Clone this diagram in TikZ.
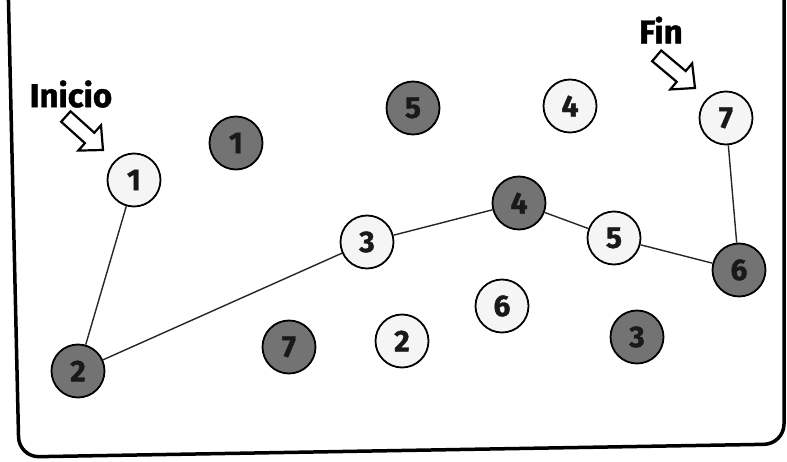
\documentclass[tikz,border=0pt]{standalone}
\usepackage{fontspec}
\setmainfont{Fira Sans}[BoldFeatures={FakeBold=1.2}]
\begin{document}
\begin{tikzpicture}[x=1pt,y=-1pt,
  dot/.style={circle, draw=black, line width=1.8pt, minimum size=53pt, inner sep=0pt,
    font=\fontsize{30}{30}\selectfont\bfseries, text=black!90},
  lite/.style={dot, fill=black!4},
  dark/.style={dot, fill=black!55},
  link/.style={line width=1.4pt, draw=black!85},
  hollow/.style={draw=black, line width=2.2pt, fill=white, line join=miter},
  lbl/.style={font=\fontsize{33}{33}\selectfont\bfseries, inner sep=0pt}]
\useasboundingbox (0,0) rectangle (787,462);
\fill[white] (0,0) rectangle (787,462);
% frame
\draw[line width=3.5pt, rounded corners=20pt] (8,-20) -- (19,457) -- (784,444) -- (784,-20);
% nodes
\node[lite] (w1) at (134,180) {1};
\node[dark] (d1) at (236,143) {1};
\node[dark] (d5) at (413,108) {5};
\node[lite] (w4) at (570,106) {4};
\node[lite] (w7) at (726,118) {7};
\node[lite] (w3) at (367,242) {3};
\node[dark] (d4) at (519,203) {4};
\node[lite] (w5) at (614,238) {5};
\node[dark] (d6) at (739,270) {6};
\node[dark] (d2) at (78,371) {2};
\node[dark] (d7) at (289,347) {7};
\node[lite] (w2) at (402,341) {2};
\node[lite] (w6) at (502,306) {6};
\node[dark] (d3) at (637,337) {3};
% path
\draw[link] (w1) -- (d2);
\draw[link] (d2) -- (w3);
\draw[link] (w3) -- (d4);
\draw[link] (d4) -- (w5);
\draw[link] (w5) -- (d6);
\draw[link] (d6) -- (w7);
% labels
\node[lbl] (inicio) at (71,94) {Inicio};
\node[lbl] (fin) at (661,30) {Fin};
% hollow arrows
\begin{scope}[shift={(103,150)}, rotate=-42]
  \draw[hollow] (0,0) -- (-18,17) -- (-18,7) -- (-50,7) -- (-50,-7) -- (-18,-7) -- (-18,-17) -- cycle;
\end{scope}
\begin{scope}[shift={(695,88)}, rotate=-40]
  \draw[hollow] (0,0) -- (-18,17) -- (-18,7) -- (-50,7) -- (-50,-7) -- (-18,-7) -- (-18,-17) -- cycle;
\end{scope}
\end{tikzpicture}
\end{document}
